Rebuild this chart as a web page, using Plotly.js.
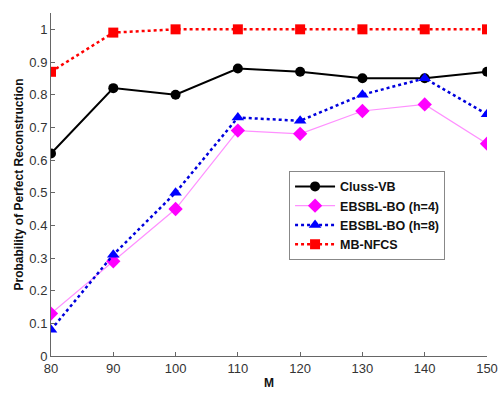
<!DOCTYPE html>
<html><head><meta charset="utf-8">
<script src="https://cdn.plot.ly/plotly-3.0.1.min.js"></script>
<style>body{margin:0;background:#fff}#c{width:500px;height:394px}</style>
</head><body><div id="c"></div>
<script>
const M = [80, 90, 100, 110, 120, 130, 140, 150];
const clussVB = [0.62, 0.82, 0.80, 0.88, 0.87, 0.85, 0.85, 0.87];
const ebsblH4 = [0.13, 0.29, 0.45, 0.69, 0.68, 0.75, 0.77, 0.65];
const ebsblH8 = [0.08, 0.31, 0.50, 0.73, 0.72, 0.80, 0.85, 0.74];
const mbNFCS = [0.87, 0.99, 1.00, 1.00, 1.00, 1.00, 1.00, 1.00];
const yTicks = [0, 0.1, 0.2, 0.3, 0.4, 0.5, 0.6, 0.7, 0.8, 0.9, 1];
const yTickText = ['0','0.1','0.2','0.3','0.4','0.5','0.6','0.7','0.8','0.9','1'];

const traces = [
  {x: M, y: clussVB, name: 'Cluss-VB', mode: 'lines+markers',
   line: {color: '#000', width: 2}, marker: {symbol: 'circle', size: 10, color: '#000'}},
  {x: M, y: ebsblH4, name: 'EBSBL-BO (h=4)', mode: 'lines+markers',
   line: {color: '#ff90ff', width: 1.2}, marker: {symbol: 'diamond', size: 11, color: '#ff00ff'}},
  {x: M, y: ebsblH8, name: 'EBSBL-BO (h=8)', mode: 'lines+markers',
   line: {color: '#0000dd', width: 2.5, dash: 'dot'}, marker: {symbol: 'triangle-up', size: 11, color: '#0000ff'}},
  {x: M, y: mbNFCS, name: 'MB-NFCS', mode: 'lines+markers',
   line: {color: '#ff0000', width: 2.5, dash: 'dot'}, marker: {symbol: 'square', size: 10, color: '#ff0000'}}
];

const layout = {
  width: 500, height: 394,
  margin: {l: 51, r: 13, t: 13, b: 38},
  paper_bgcolor: '#fff', plot_bgcolor: '#fff',
  font: {family: 'Liberation Sans, Arial, sans-serif', color: '#222', size: 13},
  showlegend: true,
  legend: {x: 0.546, y: 0.54, xanchor: 'left', yanchor: 'top',
    bordercolor: '#888', borderwidth: 1, bgcolor: '#fff',
    font: {size: 12.5, color: '#111', family: 'Liberation Sans, Arial, sans-serif', weight: 'bold'},
    tracegroupgap: 0, itemwidth: 40},
  xaxis: {range: [80, 150], tickvals: M, ticks: 'inside', ticklen: 4, tickcolor: '#666',
    showline: true, linecolor: '#666', linewidth: 1, showgrid: false, zeroline: false,
    mirror: false, tickfont: {size: 13, color: '#333'},
    title: {text: '<b>M</b>', font: {size: 12, color: '#111'}, standoff: 4}},
  yaxis: {range: [0, 1.05], tickvals: yTicks, ticktext: yTickText, ticks: 'inside', ticklen: 4,
    tickcolor: '#666', showline: true, linecolor: '#666', linewidth: 1, showgrid: false,
    zeroline: false, tickfont: {size: 13, color: '#333'},
    title: {text: '<b>Probability of Perfect Reconstruction</b>', font: {size: 12, color: '#111'}, standoff: 3}}
};
Plotly.newPlot('c', traces, layout, {displayModeBar: false, staticPlot: true});
</script></body></html>
